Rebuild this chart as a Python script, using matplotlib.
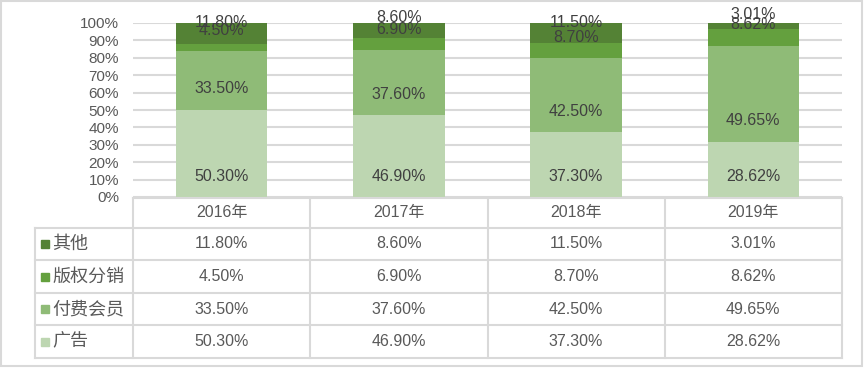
import matplotlib.pyplot as plt
import numpy as np

plt.rcParams['font.family'] = ['Liberation Sans', 'Noto Sans CJK SC', 'DejaVu Sans']

# data
years = ['2016年', '2017年', '2018年', '2019年']
series = ['广告', '付费会员', '版权分销', '其他']
ad = [50.30, 46.90, 37.30, 28.62]
member = [33.50, 37.60, 42.50, 49.65]
license_ = [4.50, 6.90, 8.70, 8.62]
other = [11.80, 8.60, 11.50, 3.01]
colors = ['#bdd6b1', '#8fbb77', '#64a03e', '#548235']

W, H = 864, 368
fig = plt.figure(figsize=(W / 100, H / 100), dpi=100)

# plot area in pixel coords
x0, x1, ytop, ybot = 133, 842, 23, 197
ax = fig.add_axes([x0 / W, 1 - ybot / H, (x1 - x0) / W, (ybot - ytop) / H])

vals = np.array([ad, member, license_, other])
pct = vals / vals.sum(axis=0) * 100
x = np.arange(len(years))
bottom = np.zeros(len(years))
for i, name in enumerate(series):
    ax.bar(x, pct[i], bottom=bottom, width=0.515, color=colors[i], zorder=2)
    # Excel-style labels sit a bit above each segment's base
    for j in range(len(years)):
        ly = min(bottom[j] + 12, 104.6)
        ax.text(x[j], ly, f'{vals[i][j]:.2f}%', ha='center', va='center',
                fontsize=11.5, color='#404040', zorder=3, clip_on=False)
    bottom += pct[i]

ax.set_xlim(-0.5, len(years) - 0.5)
ax.set_ylim(0, 100)
ax.set_yticks(range(0, 101, 10))
ax.set_yticklabels([f'{t}%' for t in range(0, 101, 10)], fontsize=11, color='#595959')
ax.tick_params(axis='y', length=0, pad=10)
ax.set_xticks([])
ax.grid(axis='y', color='#d9d9d9', linewidth=1.5, zorder=0)
ax.set_axisbelow(True)
for s in ax.spines.values():
    s.set_visible(False)

# data table underneath, drawn on an overlay in pixel coords
ov = fig.add_axes([0, 0, 1, 1])
ov.set_xlim(0, W)
ov.set_ylim(H, 0)
ov.axis('off')
lc = '#d9d9d9'
col_x = [x0 + k * (x1 - x0) / 4 for k in range(5)]
row_y = [198, 228, 260, 293, 325, 358]
tab_left = 35
ov.plot([x0, x1], [row_y[0], row_y[0]], color=lc, lw=1.5)
for yy in row_y[1:]:
    ov.plot([tab_left, x1], [yy, yy], color=lc, lw=1.5)
ov.plot([tab_left, tab_left], [row_y[1], row_y[-1]], color=lc, lw=1.5)
for xx in col_x:
    ov.plot([xx, xx], [row_y[0], row_y[-1]], color=lc, lw=1.5)

for k, yr in enumerate(years):
    cx = (col_x[k] + col_x[k + 1]) / 2
    ov.text(cx, (row_y[0] + row_y[1]) / 2, yr, ha='center', va='center',
            fontsize=11.5, color='#595959')

for r, i in enumerate([3, 2, 1, 0]):
    cy = (row_y[r + 1] + row_y[r + 2]) / 2
    ov.add_patch(plt.Rectangle((41, cy - 4), 8, 8, color=colors[i]))
    ov.text(52, cy, series[i], ha='left', va='center', fontsize=13,
            color='#595959', family=['Noto Sans CJK SC', 'DejaVu Sans'])
    for k in range(len(years)):
        cx = (col_x[k] + col_x[k + 1]) / 2
        ov.text(cx, cy, f'{vals[i][k]:.2f}%', ha='center', va='center',
                fontsize=11.5, color='#595959')

# outer border
ov.add_patch(plt.Rectangle((1, 1), W - 3, H - 3, fill=False, edgecolor=lc, lw=1.5))

fig.savefig('out.png', dpi=100, facecolor='white')
